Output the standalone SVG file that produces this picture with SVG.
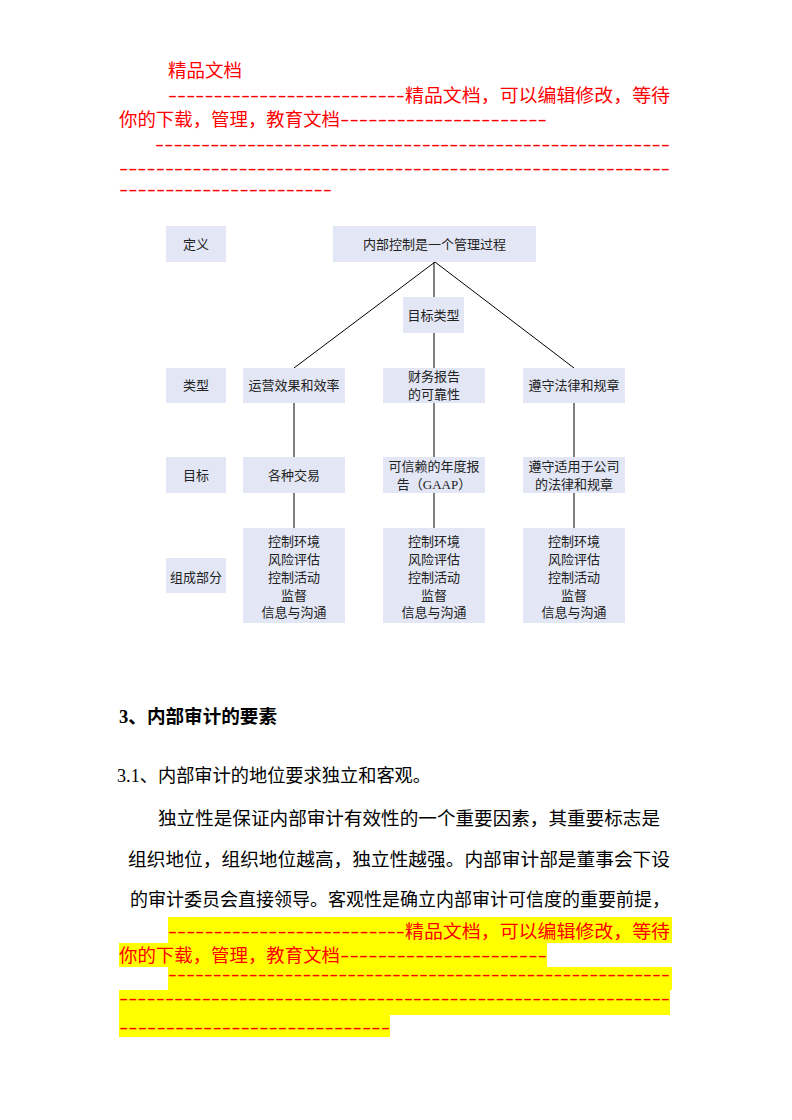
<svg xmlns="http://www.w3.org/2000/svg" width="792" height="1120" viewBox="0 0 792 1120">
<style>
.red{fill:#ff0000;font-family:"Liberation Serif","Noto Sans CJK SC",serif;font-size:18.5px}
.dash{fill:#ff0000;font-family:"Liberation Sans",sans-serif;font-size:18.5px}
.body{fill:#000;font-family:"Liberation Serif","Noto Sans CJK SC",serif;font-size:18.5px}
.box{fill:#e3e7f5}
.bt{fill:#222;font-family:"Liberation Serif","Noto Sans CJK SC",serif;font-size:13px;text-anchor:middle}
.ln{stroke:#000;stroke-width:1;fill:none}
.hl{fill:#ffff00}
</style>
<rect width="792" height="1120" fill="#fff"/>

<!-- header watermark -->
<g id="header">
<text class="red" x="168" y="77">精品文档</text>
<text class="dash" x="168" y="102" textLength="237" lengthAdjust="spacingAndGlyphs">--------------------------</text>
<text class="red" x="405" y="102" textLength="265" lengthAdjust="spacingAndGlyphs">精品文档，可以编辑修改，等待</text>
<text class="red" x="119" y="126" textLength="221" lengthAdjust="spacingAndGlyphs">你的下载，管理，教育文档</text>
<text class="dash" x="340" y="126" textLength="207" lengthAdjust="spacingAndGlyphs">----------------------</text>
<text class="dash" x="155" y="151" textLength="515" lengthAdjust="spacingAndGlyphs">--------------------------------------------------------</text>
<text class="dash" x="119" y="175" textLength="551" lengthAdjust="spacingAndGlyphs">------------------------------------------------------------</text>
<text class="dash" x="119" y="196" textLength="213" lengthAdjust="spacingAndGlyphs">-----------------------</text>
</g>

<!-- connectors -->
<g id="connectors">
<line class="ln" x1="435" y1="262" x2="294" y2="368"/>
<line class="ln" x1="435" y1="262" x2="574" y2="368"/>
<line class="ln" x1="434" y1="262" x2="434" y2="297"/>
<line class="ln" x1="434" y1="333" x2="434" y2="368"/>
<line class="ln" x1="294" y1="403" x2="294" y2="457"/>
<line class="ln" x1="434" y1="403" x2="434" y2="457"/>
<line class="ln" x1="574" y1="403" x2="574" y2="457"/>
<line class="ln" x1="294" y1="493" x2="294" y2="528"/>
<line class="ln" x1="434" y1="493" x2="434" y2="528"/>
<line class="ln" x1="574" y1="493" x2="574" y2="528"/>
</g>

<!-- row labels -->
<g id="label-def"><rect class="box" x="166" y="226" width="60" height="36"/><text class="bt" x="196" y="249">定义</text></g>
<g id="label-type"><rect class="box" x="166" y="368" width="60" height="35"/><text class="bt" x="196" y="390">类型</text></g>
<g id="label-goal"><rect class="box" x="166" y="457" width="60" height="36"/><text class="bt" x="196" y="480">目标</text></g>
<g id="label-comp"><rect class="box" x="166" y="558" width="60" height="35"/><text class="bt" x="196" y="582">组成部分</text></g>

<!-- nodes -->
<g id="root"><rect class="box" x="333" y="226" width="203" height="36"/><text class="bt" x="434.5" y="249">内部控制是一个管理过程</text></g>
<g id="objtype"><rect class="box" x="403" y="297" width="61" height="36"/><text class="bt" x="433.5" y="320">目标类型</text></g>

<g id="t1"><rect class="box" x="243" y="368" width="102" height="35"/><text class="bt" x="294" y="390">运营效果和效率</text></g>
<g id="t2"><rect class="box" x="383" y="368" width="102" height="35"/><text class="bt" x="434" y="381">财务报告</text><text class="bt" x="434" y="399">的可靠性</text></g>
<g id="t3"><rect class="box" x="523" y="368" width="102" height="35"/><text class="bt" x="574" y="390">遵守法律和规章</text></g>

<g id="g1"><rect class="box" x="243" y="457" width="102" height="36"/><text class="bt" x="294" y="480">各种交易</text></g>
<g id="g2"><rect class="box" x="383" y="457" width="102" height="36"/><text class="bt" x="434" y="471">可信赖的年度报</text><text class="bt" x="434" y="489">告（GAAP）</text></g>
<g id="g3"><rect class="box" x="523" y="457" width="102" height="36"/><text class="bt" x="574" y="471">遵守适用于公司</text><text class="bt" x="574" y="489">的法律和规章</text></g>

<g id="c1"><rect class="box" x="243" y="528" width="102" height="95"/>
<text class="bt" x="294" y="546">控制环境</text><text class="bt" x="294" y="564">风险评估</text><text class="bt" x="294" y="582">控制活动</text><text class="bt" x="294" y="600">监督</text><text class="bt" x="294" y="617">信息与沟通</text></g>
<g id="c2"><rect class="box" x="383" y="528" width="102" height="95"/>
<text class="bt" x="434" y="546">控制环境</text><text class="bt" x="434" y="564">风险评估</text><text class="bt" x="434" y="582">控制活动</text><text class="bt" x="434" y="600">监督</text><text class="bt" x="434" y="617">信息与沟通</text></g>
<g id="c3"><rect class="box" x="523" y="528" width="102" height="95"/>
<text class="bt" x="574" y="546">控制环境</text><text class="bt" x="574" y="564">风险评估</text><text class="bt" x="574" y="582">控制活动</text><text class="bt" x="574" y="600">监督</text><text class="bt" x="574" y="617">信息与沟通</text></g>

<!-- body text -->
<g id="body">
<text class="body" x="119" y="723" font-weight="bold" textLength="158" lengthAdjust="spacingAndGlyphs">3、内部审计的要素</text>
<text class="body" x="117" y="782" textLength="314" lengthAdjust="spacingAndGlyphs">3.1、内部审计的地位要求独立和客观。</text>
<text class="body" x="158" y="825" textLength="502" lengthAdjust="spacingAndGlyphs">独立性是保证内部审计有效性的一个重要因素，其重要标志是</text>
<text class="body" x="128" y="866" textLength="542" lengthAdjust="spacingAndGlyphs">组织地位，组织地位越高，独立性越强。内部审计部是董事会下设</text>
<text class="body" x="130" y="906" textLength="540" lengthAdjust="spacingAndGlyphs">的审计委员会直接领导。客观性是确立内部审计可信度的重要前提，</text>
</g>

<!-- highlighted footer watermark -->
<g id="footer">
<rect class="hl" x="168" y="917" width="504" height="26"/>
<rect class="hl" x="119" y="943" width="428" height="24"/>
<rect class="hl" x="168" y="967" width="504" height="23"/>
<rect class="hl" x="119" y="990" width="551" height="25"/>
<rect class="hl" x="119" y="1015" width="271" height="22"/>
<text class="dash" x="168" y="938" textLength="237" lengthAdjust="spacingAndGlyphs">--------------------------</text>
<text class="red" x="405" y="938" textLength="265" lengthAdjust="spacingAndGlyphs">精品文档，可以编辑修改，等待</text>
<text class="red" x="119" y="962" textLength="221" lengthAdjust="spacingAndGlyphs">你的下载，管理，教育文档</text>
<text class="dash" x="340" y="962" textLength="207" lengthAdjust="spacingAndGlyphs">----------------------</text>
<text class="dash" x="168" y="981" textLength="502" lengthAdjust="spacingAndGlyphs">--------------------------------------------------------</text>
<text class="dash" x="119" y="1005" textLength="551" lengthAdjust="spacingAndGlyphs">------------------------------------------------------------</text>
<text class="dash" x="119" y="1034" textLength="271" lengthAdjust="spacingAndGlyphs">-----------------------------</text>
</g>
</svg>
